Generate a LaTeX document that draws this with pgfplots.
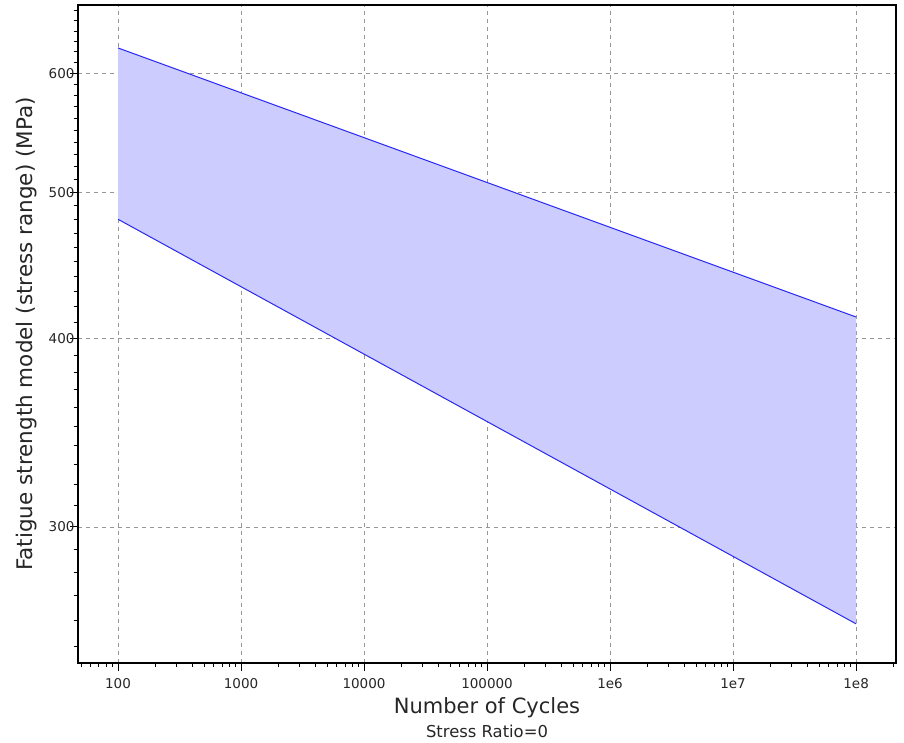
\documentclass[border=0pt]{standalone}
\usepackage{pgfplots}
\pgfplotsset{compat=1.18}
\usepackage{fontspec}
\setmainfont{DejaVu Sans}
\definecolor{bandfill}{RGB}{204,204,255}
\definecolor{bandline}{RGB}{40,40,245}
\definecolor{gridgray}{RGB}{150,150,150}
\begin{document}
\begin{tikzpicture}
\begin{axis}[
  scale only axis,
  width=818pt, height=658pt,
  xmode=log, ymode=log,
  log basis x=10, log basis y=10,
  xmin=47.3, xmax=2.11e8,
  ymin=243.7, ymax=666,
  xtick={100,1000,10000,100000,1000000,10000000,100000000},
  xticklabels={100,1000,10000,100000,1e6,1e7,1e8},
  minor xtick={50,60,70,80,90,200,300,400,500,600,700,800,900,2000,3000,4000,5000,6000,7000,8000,9000,20000,30000,40000,50000,60000,70000,80000,90000,200000,300000,400000,500000,600000,700000,800000,900000,2e6,3e6,4e6,5e6,6e6,7e6,8e6,9e6,2e7,3e7,4e7,5e7,6e7,7e7,8e7,9e7,2e8},
  ytick={300,400,500,600},
  yticklabels={300,400,500,600},
  minor ytick={250,260,270,280,290,310,320,330,340,350,360,370,380,390,410,420,430,440,450,460,470,480,490,510,520,530,540,550,560,570,580,590,610,620,630,640,650,660},
  tick align=outside,
  major tick length=8pt, minor tick length=4pt,
  tick style={black, line width=0.9pt},
  axis line style={black, line width=1.3pt},
  xtick pos=bottom, ytick pos=left,
  grid=major,
  major grid style={gridgray, dash pattern=on 4pt off 4pt, line width=0.8pt},
  ticklabel style={font=\fontsize{13.5}{15}\selectfont, text=black!85},
  /pgf/number format/assume math mode=true,
  xticklabel style={yshift=-4pt},
  yticklabel style={xshift=8pt},
  xlabel={Number of Cycles},
  ylabel={Fatigue strength model (stress range) (MPa)},
  xlabel style={font=\fontsize{21}{24}\selectfont, text=black!85, at={(axis description cs:0.5,-0.0684)}, anchor=center},
  ylabel style={font=\fontsize{21.5}{24}\selectfont, text=black!85, at={(axis description cs:-0.0623,0.5)}, anchor=center},
  clip=false,
]
\addplot[fill=bandfill, draw=none] coordinates {
  (100,623.6) (1e8,413.4) (1e8,258.7) (100,480) } -- cycle;
\addplot[bandline, line width=1pt] coordinates {(100,623.6) (1e8,413.4)};
\addplot[bandline, line width=1pt] coordinates {(100,480) (1e8,258.7)};
\node[font=\fontsize{16.4}{18}\selectfont, text=black!85] at (axis description cs:0.5,-0.1033) {Stress Ratio=0};
\path (rel axis cs:0,0) ++(-78pt,-79pt) (rel axis cs:1,1) ++(8pt,5pt);
\end{axis}
\end{tikzpicture}
\end{document}
